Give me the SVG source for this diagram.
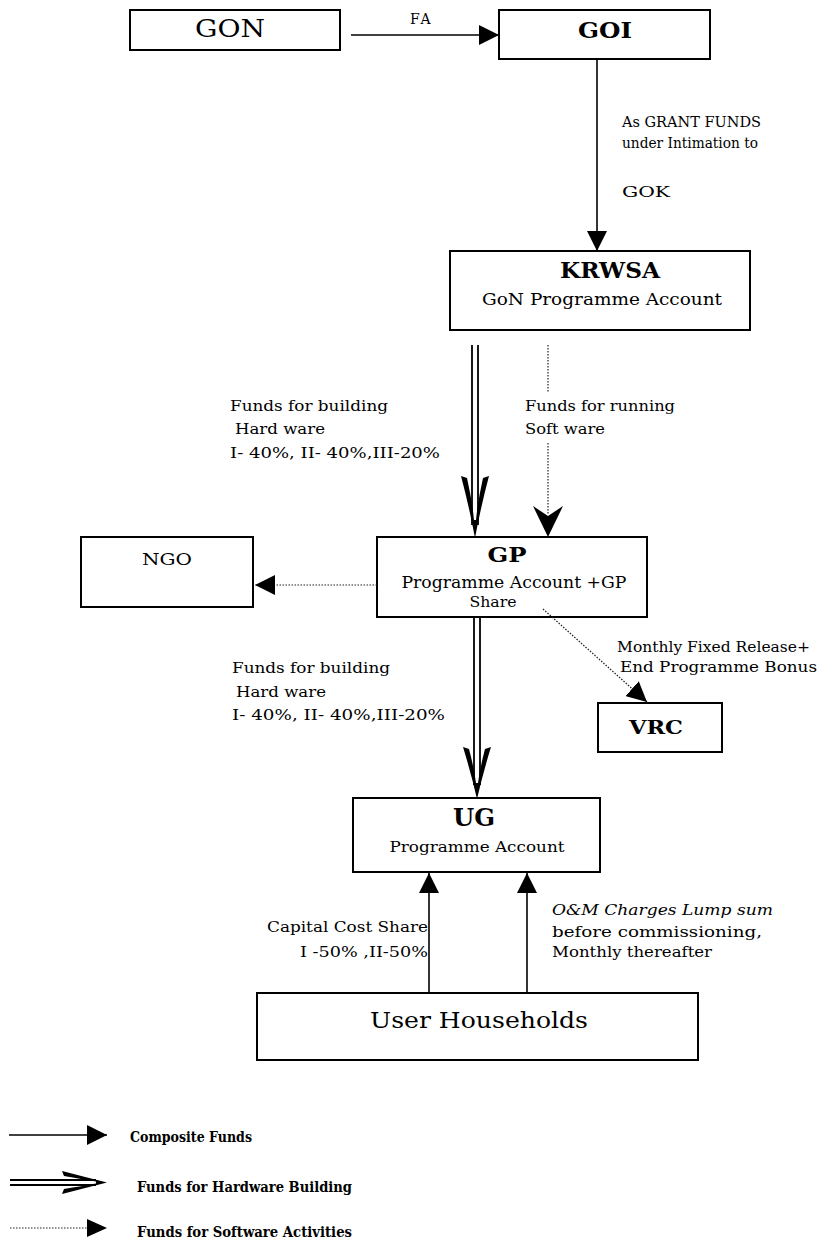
<svg xmlns="http://www.w3.org/2000/svg" width="821" height="1245" viewBox="0 0 821 1245">
<style>
.box{fill:#fff;stroke:#000;stroke-width:2}
.t{font-family:"DejaVu Serif","Liberation Serif",serif;fill:#000}
.c{text-anchor:middle}
.e{text-anchor:end}
.b{font-weight:bold}
.ln{stroke:#000;stroke-width:1.6;fill:none}
.dot{stroke:#222;stroke-width:1.2;stroke-dasharray:1.5 1.5;fill:none}
.dbl{stroke:#000;stroke-width:1.8;fill:none}
.ah{fill:#000}
</style>
<defs>
<marker id="tri" viewBox="0 0 20 20" refX="20" refY="10" markerWidth="20" markerHeight="20" markerUnits="userSpaceOnUse" orient="auto">
<path d="M0,0 L20,10 L0,20 Z" fill="#000"/>
</marker>
</defs>

<g id="GON"><rect class="box" x="130" y="10" width="210" height="40"/><text class="t c" x="230" y="37" font-size="25" textLength="70" lengthAdjust="spacingAndGlyphs">GON</text></g>
<g id="GOI"><rect class="box" x="499" y="10" width="211" height="49"/><text class="t c b" x="605" y="38" font-size="23" textLength="54" lengthAdjust="spacingAndGlyphs">GOI</text></g>
<g id="KRWSA"><rect class="box" x="450" y="251" width="300" height="79"/><text class="t c b" x="610" y="278" font-size="23" textLength="100" lengthAdjust="spacingAndGlyphs">KRWSA</text><text class="t c" x="602" y="305" font-size="17" textLength="240" lengthAdjust="spacingAndGlyphs">GoN Programme Account</text></g>
<g id="NGO"><rect class="box" x="81" y="537" width="172" height="70"/><text class="t c" x="167" y="565" font-size="16" textLength="50" lengthAdjust="spacingAndGlyphs">NGO</text></g>
<g id="GP"><rect class="box" x="377" y="537" width="270" height="80"/><text class="t c b" x="507" y="562" font-size="21" textLength="39" lengthAdjust="spacingAndGlyphs">GP</text><text class="t c" x="514" y="588" font-size="16.5" textLength="225" lengthAdjust="spacingAndGlyphs">Programme Account +GP</text><text class="t c" x="493" y="607" font-size="15" textLength="47" lengthAdjust="spacingAndGlyphs">Share</text></g>
<g id="VRC"><rect class="box" x="598" y="703" width="124" height="49"/><text class="t c b" x="656" y="734" font-size="18" textLength="54" lengthAdjust="spacingAndGlyphs">VRC</text></g>
<g id="UG"><rect class="box" x="353" y="798" width="247" height="74"/><text class="t c b" x="474" y="826" font-size="24" textLength="42" lengthAdjust="spacingAndGlyphs">UG</text><text class="t c" x="477" y="852" font-size="15.5" textLength="175" lengthAdjust="spacingAndGlyphs">Programme Account</text></g>
<g id="UserHouseholds"><rect class="box" x="257" y="993" width="441" height="67"/><text class="t c" x="479" y="1028" font-size="23" textLength="218" lengthAdjust="spacingAndGlyphs">User Households</text></g>

<g id="connectors">
<line class="ln" x1="351" y1="35" x2="499" y2="35" marker-end="url(#tri)"/>
<text class="t" x="410" y="24" font-size="14" letter-spacing="2">FA</text>
<line class="ln" x1="597" y1="59" x2="597" y2="251" marker-end="url(#tri)"/>
<text class="t" x="622" y="127" font-size="14.5" textLength="139" lengthAdjust="spacingAndGlyphs">As GRANT FUNDS</text>
<text class="t" x="622" y="148" font-size="14.5" textLength="136" lengthAdjust="spacingAndGlyphs">under Intimation to</text>
<text class="t" x="622" y="197" font-size="15" textLength="48" lengthAdjust="spacingAndGlyphs">GOK</text>

<line class="dbl" x1="472" y1="345" x2="472" y2="525"/>
<line class="dbl" x1="478" y1="345" x2="478" y2="525"/>
<path class="ah" d="M461,476 Q469,506 475,538 Q481,506 489,476 L483,478 Q478,500 476,520 L474,520 Q472,500 467,478 Z"/>
<text class="t" x="230" y="411" font-size="15.5" textLength="158" lengthAdjust="spacingAndGlyphs">Funds for building</text>
<text class="t" x="235" y="434" font-size="15.5" textLength="90" lengthAdjust="spacingAndGlyphs">Hard ware</text>
<text class="t" x="230" y="458" font-size="15" textLength="210" lengthAdjust="spacingAndGlyphs">I- 40%, II- 40%,III-20%</text>

<line class="dot" x1="548" y1="345" x2="548" y2="392"/>
<line class="dot" x1="548" y1="443" x2="548" y2="515"/>
<path class="ah" d="M548,537 L533,506 L548,516 L563,506 Z"/>
<text class="t" x="525" y="411" font-size="15.5" textLength="150" lengthAdjust="spacingAndGlyphs">Funds for running</text>
<text class="t" x="525" y="434" font-size="15.5" textLength="80" lengthAdjust="spacingAndGlyphs">Soft ware</text>

<line class="dot" x1="377" y1="585" x2="255" y2="585" marker-end="url(#tri)"/>

<line class="dot" x1="543" y1="609" x2="647" y2="702" marker-end="url(#tri)"/>
<text class="t" x="617" y="652" font-size="14.5" textLength="193" lengthAdjust="spacingAndGlyphs">Monthly Fixed  Release+</text>
<text class="t" x="620" y="672" font-size="14.5" textLength="197" lengthAdjust="spacingAndGlyphs">End Programme Bonus</text>

<line class="dbl" x1="474" y1="617" x2="474" y2="785"/>
<line class="dbl" x1="480" y1="617" x2="480" y2="785"/>
<path class="ah" d="M463,747 Q471,773 477,799 Q483,773 491,747 L485,749 Q480,768 478,783 L476,783 Q474,768 469,749 Z"/>
<text class="t" x="232" y="673" font-size="15.5" textLength="158" lengthAdjust="spacingAndGlyphs">Funds for building</text>
<text class="t" x="236" y="697" font-size="15.5" textLength="90" lengthAdjust="spacingAndGlyphs">Hard ware</text>
<text class="t" x="232" y="720" font-size="15" textLength="213" lengthAdjust="spacingAndGlyphs">I- 40%, II- 40%,III-20%</text>

<line class="ln" x1="429" y1="993" x2="429" y2="873" marker-end="url(#tri)"/>
<line class="ln" x1="527" y1="993" x2="527" y2="873" marker-end="url(#tri)"/>
<text class="t e" x="428" y="932" font-size="15" textLength="161" lengthAdjust="spacingAndGlyphs">Capital  Cost Share</text>
<text class="t e" x="428" y="957" font-size="15" textLength="128" lengthAdjust="spacingAndGlyphs">I -50% ,II-50%</text>
<text class="t" x="552" y="915" font-size="15" font-style="italic" textLength="221" lengthAdjust="spacingAndGlyphs">O&amp;M Charges Lump sum</text>
<text class="t" x="552" y="937" font-size="15" textLength="210" lengthAdjust="spacingAndGlyphs">before commissioning,</text>
<text class="t" x="552" y="957" font-size="15" textLength="160" lengthAdjust="spacingAndGlyphs">Monthly thereafter</text>
</g>

<g id="legend">
<line class="ln" x1="9" y1="1135" x2="107" y2="1135" marker-end="url(#tri)"/>
<text class="t b" x="130" y="1142" font-size="14.5" textLength="122" lengthAdjust="spacingAndGlyphs">Composite Funds</text>
<line class="dbl" x1="10" y1="1180" x2="96" y2="1180"/>
<line class="dbl" x1="10" y1="1185" x2="96" y2="1185"/>
<path class="ah" d="M62,1171 Q85,1177 107,1182.5 Q85,1188 62,1194 L64,1189 Q82,1186 96,1183.5 L96,1181.5 Q82,1179 64,1176 Z"/>
<text class="t b" x="137" y="1192" font-size="14.5" textLength="215" lengthAdjust="spacingAndGlyphs">Funds for Hardware Building</text>
<line class="dot" x1="10" y1="1228" x2="88" y2="1228"/>
<path class="ah" d="M87,1219 L107,1228 L87,1237 Z"/>
<text class="t b" x="137" y="1237" font-size="14.5" textLength="215" lengthAdjust="spacingAndGlyphs">Funds for Software Activities</text>
</g>
</svg>
